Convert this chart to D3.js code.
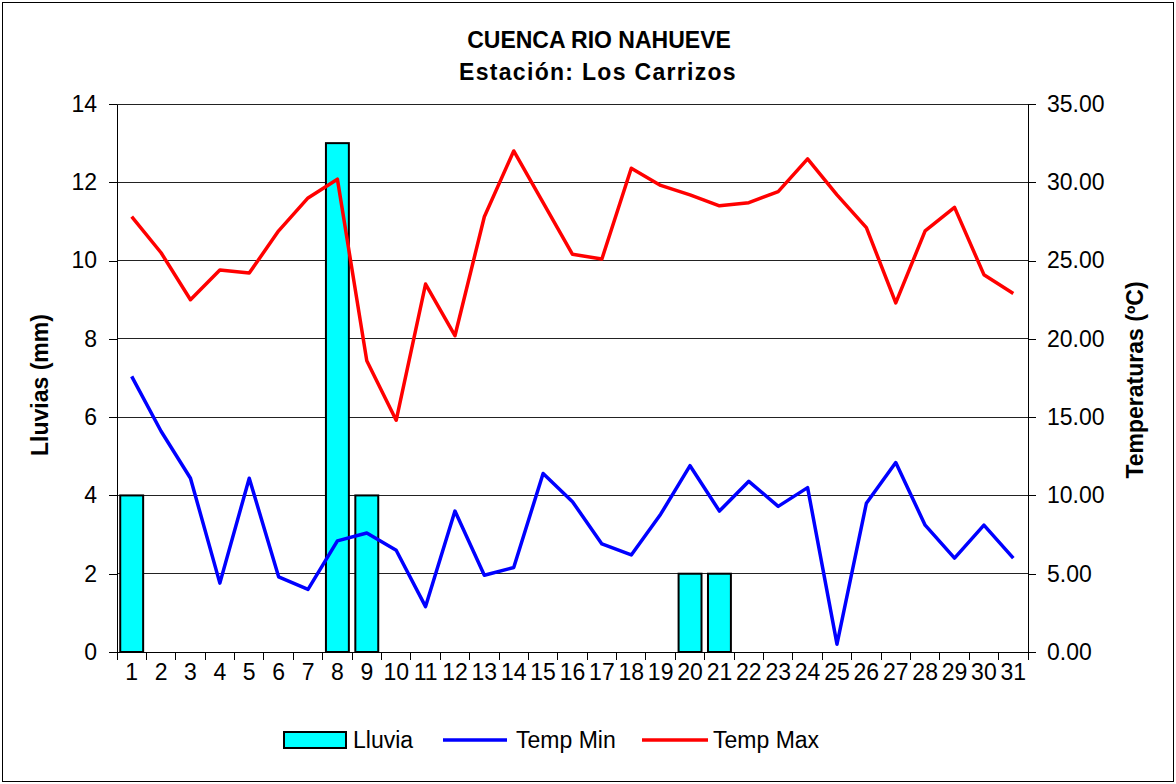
<!DOCTYPE html>
<html>
<head>
<meta charset="utf-8">
<script src="https://cdn.jsdelivr.net/npm/d3@7"></script>
<style>
  body { margin: 0; background: #fff; }
  text { font-family: Arial, "Liberation Sans", sans-serif; fill: #000; }
</style>
</head>
<body>
<div id="chart"></div>
<script>
// daily data, Estación Los Carrizos
var days = d3.range(1, 32).map(String);
var lluvia = [4, 0, 0, 0, 0, 0, 0, 13, 4, 0, 0, 0, 0, 0, 0, 0, 0, 0, 0, 2, 2, 0, 0, 0, 0, 0, 0, 0, 0, 0, 0];
var tempMin = [17.6, 14.1, 11.1, 4.4, 11.1, 4.8, 4.0, 7.1, 7.6, 6.5, 2.9, 9.0, 4.9, 5.4, 11.4, 9.6,
               6.9, 6.2, 8.8, 11.9, 9.0, 10.9, 9.3, 10.5, 0.5, 9.5, 12.1, 8.1, 6.0, 8.1, 6.0];
var tempMax = [27.8, 25.5, 22.5, 24.4, 24.2, 26.9, 29.0, 30.2, 18.6, 14.8, 23.5, 20.2, 27.8, 32.0, 28.7, 25.4,
               25.1, 30.9, 29.8, 29.2, 28.5, 28.7, 29.4, 31.5, 29.2, 27.1, 22.3, 26.9, 28.4, 24.1, 22.9];
var leftTicks = [0, 2, 4, 6, 8, 10, 12, 14];
var rightTicks = [0, 5, 10, 15, 20, 25, 30, 35];

var svgWidth = 1176, svgHeight = 784;
var margin = {top: 104, right: 148, bottom: 132, left: 117};
var width = svgWidth - margin.left - margin.right;
var height = svgHeight - margin.top - margin.bottom;

var svg = d3.select("#chart").append("svg")
  .attr("width", svgWidth).attr("height", svgHeight);

// outer frame
svg.append("rect")
  .attr("x", 2.5).attr("y", 2.5)
  .attr("width", svgWidth - 5).attr("height", svgHeight - 5)
  .attr("fill", "none").attr("stroke", "#000").attr("stroke-width", 1);

var g = svg.append("g").attr("transform", `translate(${margin.left}, ${margin.top})`);

var x = d3.scaleBand().domain(days).range([0, width]);
var yL = d3.scaleLinear().domain([0, 14]).range([height, 0]);
var yR = d3.scaleLinear().domain([0, 35]).range([height, 0]);

// gridlines
g.append("g").selectAll("line")
  .data(leftTicks.slice(1))
  .enter().append("line")
  .attr("x1", 0).attr("x2", width)
  .attr("y1", d => yL(d)).attr("y2", d => yL(d))
  .attr("stroke", "#222").attr("stroke-width", 1)
  .attr("shape-rendering", "crispEdges");

// bars
var bw = x.bandwidth() * 0.78;
g.append("g").selectAll("rect")
  .data(lluvia.map((v, i) => ({day: days[i], v: v})).filter(d => d.v > 0))
  .enter().append("rect")
  .attr("x", d => x(d.day) + (x.bandwidth() - bw) / 2)
  .attr("y", d => yL(d.v))
  .attr("width", bw)
  .attr("height", d => height - yL(d.v))
  .attr("fill", "#00FFFF").attr("stroke", "#000").attr("stroke-width", 2);

// lines
var line = d3.line()
  .x((d, i) => x(days[i]) + x.bandwidth() / 2)
  .y(d => yR(d));
g.append("path").datum(tempMin)
  .attr("d", line).attr("fill", "none")
  .attr("stroke", "#0000FF").attr("stroke-width", 3.5).attr("stroke-linejoin", "round");
g.append("path").datum(tempMax)
  .attr("d", line).attr("fill", "none")
  .attr("stroke", "#FF0000").attr("stroke-width", 3.5).attr("stroke-linejoin", "round");

// axes
var leftAxis = d3.axisLeft(yL).tickValues(leftTicks).tickSize(8).tickPadding(12).tickSizeOuter(0);
var rightAxis = d3.axisRight(yR).tickValues(rightTicks).tickFormat(d3.format(".2f"))
  .tickSize(8).tickPadding(11).tickSizeOuter(0);
var bottomAxis = d3.axisBottom(x).tickSize(0).tickPadding(12);

var la = g.append("g").call(leftAxis);
var ra = g.append("g").attr("transform", `translate(${width}, 0)`).call(rightAxis);
var ba = g.append("g").attr("transform", `translate(0, ${height})`).call(bottomAxis);
[la, ra, ba].forEach(function(a) {
  a.selectAll("text").attr("font-size", 23).attr("font-family", "Arial, 'Liberation Sans', sans-serif");
  a.selectAll("path, line").attr("stroke", "#000").attr("shape-rendering", "crispEdges");
});
ba.select(".domain").attr("stroke-width", 1);

// category ticks on band boundaries
g.append("g").selectAll("line")
  .data(days.map(d => x(d)).concat([width]))
  .enter().append("line")
  .attr("x1", d => d).attr("x2", d => d)
  .attr("y1", height).attr("y2", height + 8)
  .attr("stroke", "#000").attr("shape-rendering", "crispEdges");

// titles
svg.append("text").attr("x", 599).attr("y", 48)
  .attr("text-anchor", "middle").attr("font-size", 23).attr("font-weight", "bold")
  .text("CUENCA RIO NAHUEVE");
svg.append("text").attr("x", 598).attr("y", 80)
  .attr("text-anchor", "middle").attr("font-size", 23).attr("font-weight", "bold")
  .attr("letter-spacing", 1.3)
  .text("Estación: Los Carrizos");

svg.append("text")
  .attr("transform", "translate(48, 385) rotate(-90)")
  .attr("text-anchor", "middle").attr("font-size", 23).attr("font-weight", "bold")
  .text("Lluvias (mm)");
svg.append("text")
  .attr("transform", "translate(1143, 380) rotate(-90)")
  .attr("text-anchor", "middle").attr("font-size", 23).attr("font-weight", "bold")
  .text("Temperaturas (ºC)");

// legend
var legend = svg.append("g");
legend.append("rect")
  .attr("x", 284).attr("y", 732).attr("width", 62).attr("height", 16)
  .attr("fill", "#00FFFF").attr("stroke", "#000").attr("stroke-width", 2);
legend.append("text").attr("x", 353).attr("y", 748).attr("font-size", 23).text("Lluvia");
legend.append("line").attr("x1", 443).attr("x2", 507).attr("y1", 740).attr("y2", 740)
  .attr("stroke", "#0000FF").attr("stroke-width", 3.5);
legend.append("text").attr("x", 516).attr("y", 748).attr("font-size", 23).text("Temp Min");
legend.append("line").attr("x1", 642).attr("x2", 708).attr("y1", 740).attr("y2", 740)
  .attr("stroke", "#FF0000").attr("stroke-width", 3.5);
legend.append("text").attr("x", 713).attr("y", 748).attr("font-size", 23).text("Temp Max");
</script>
</body>
</html>
